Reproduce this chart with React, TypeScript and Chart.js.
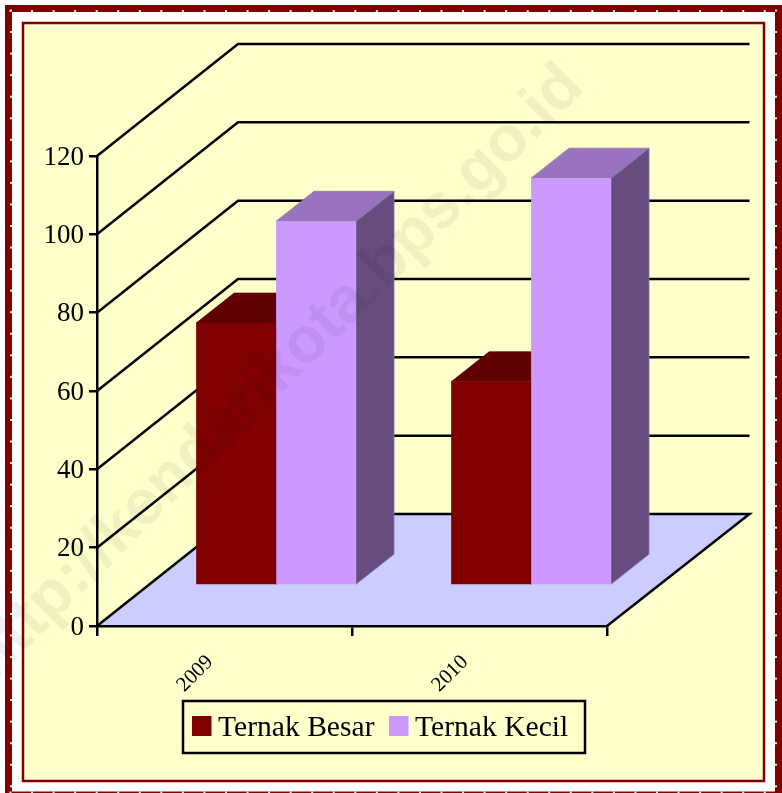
import React, { useEffect, useRef } from "react";
import { Chart, registerables } from "chart.js";

Chart.register(...registerables);

const categories = ["2009", "2010"];
const ternakBesar = [67, 52];
const ternakKecil = [93, 104];
const seriesNames = ["Ternak Besar", "Ternak Kecil"];
const frontColors = ["#800000", "#CC99FF"];
const topColors = ["#600000", "#9973BF"];
const sideColors = ["#400000", "#664D80"];
const edgeColors = ["#600000", "#8F7AA8"];
const watermarkText = "http://kendarikota.bps.go.id";

const WALL_DX = 141;
const WALL_DY = -112;
const WALL_END = 1.5;
const BAR_DX = 38;
const BAR_DY = -30;
const SHIFT_X = 51.6;
const SHIFT_Y = -40.5;
const LINE = 2.5;
const SERIF = "'Liberation Serif', 'Times New Roman', serif";

function poly(ctx: CanvasRenderingContext2D, pts: number[][], fill: string, edge?: string) {
  ctx.beginPath();
  pts.forEach((p, i) => (i ? ctx.lineTo(p[0], p[1]) : ctx.moveTo(p[0], p[1])));
  ctx.closePath();
  ctx.fillStyle = fill;
  ctx.fill();
  if (edge) {
    ctx.strokeStyle = edge;
    ctx.lineWidth = 0.8;
    ctx.stroke();
  }
}

const scene3d = {
  id: "scene3d",
  beforeDraw(chart: any) {
    const { ctx, scales, chartArea, width, height } = chart;
    // centre the value labels on their ticks
    scales.y.getLabelItems(chartArea).forEach((item: any) => {
      if (!item.nudged) {
        item.options.translation[1] += 1.5;
        item.nudged = true;
      }
    });
    ctx.save();
    ctx.fillStyle = "#FFFFFF";
    ctx.fillRect(0, 0, width, height);
    // outer dotted frame
    ctx.strokeStyle = "#800000";
    ctx.lineWidth = 7;
    ctx.strokeRect(8.5, 8.5, 770, 786.5);
    ctx.fillStyle = "#F4E4E4";
    for (let x = 10.5; x < 776; x += 21.55) {
      ctx.fillRect(x - 1, 10, 2, 2);
      ctx.fillRect(x - 1, 791.5, 2, 1.5);
    }
    for (let y = 10.5; y < 792; y += 21.55) {
      ctx.fillRect(10, y - 1, 2, 2);
      ctx.fillRect(775, y - 1, 2, 2);
    }
    // inner frame
    ctx.fillStyle = "#FFFFCC";
    ctx.fillRect(23, 23, 741, 758);
    ctx.strokeStyle = "#800000";
    ctx.lineWidth = 2.5;
    ctx.strokeRect(23, 23, 741, 758);

    const { left, right, bottom } = chartArea;
    poly(
      ctx,
      [
        [left, bottom],
        [left + WALL_DX, bottom + WALL_DY],
        [right + WALL_DX + WALL_END, bottom + WALL_DY],
        [right, bottom],
      ],
      "#CCCCFF"
    );
    ctx.strokeStyle = "#000000";
    ctx.lineWidth = LINE;
    ctx.lineJoin = "miter";
    scales.y.ticks.forEach((t: any) => {
      const y = scales.y.getPixelForValue(t.value);
      ctx.beginPath();
      ctx.moveTo(left, y);
      ctx.lineTo(left + WALL_DX, y + WALL_DY);
      ctx.lineTo(right + WALL_DX + WALL_END, y + WALL_DY);
      if (t.value === 0) ctx.lineTo(right, y);
      ctx.stroke();
    });
    ctx.restore();
  },
  beforeDatasetsDraw(chart: any) {
    const { ctx } = chart;
    ctx.save();
    ctx.translate(SHIFT_X, SHIFT_Y);
    chart.data.datasets.forEach((_: any, d: number) => {
      chart.getDatasetMeta(d).data.forEach((bar: any) => {
        const { x, y, base, width: w } = bar.getProps(["x", "y", "base", "width"], true);
        const l = x - w / 2;
        const r = x + w / 2;
        poly(ctx, [[l, y], [l + BAR_DX, y + BAR_DY], [r + BAR_DX, y + BAR_DY], [r, y]], topColors[d], edgeColors[d]);
        poly(ctx, [[r, y], [r + BAR_DX, y + BAR_DY], [r + BAR_DX, base + BAR_DY], [r, base]], sideColors[d], edgeColors[d]);
      });
    });
  },
  afterDatasetsDraw(chart: any) {
    chart.ctx.restore();
  },
  afterDraw(chart: any) {
    const { ctx } = chart;
    // legend box
    ctx.save();
    ctx.fillStyle = "#FFFFCC";
    ctx.fillRect(183, 701, 402, 52);
    ctx.strokeStyle = "#000000";
    ctx.lineWidth = 2.5;
    ctx.strokeRect(183, 701, 402, 52);
    ctx.font = `29.6px ${SERIF}`;
    ctx.textBaseline = "alphabetic";
    ctx.textAlign = "left";
    const boxX = [192, 389];
    const textX = [218, 415];
    chart.data.datasets.forEach((ds: any, i: number) => {
      ctx.fillStyle = ds.backgroundColor;
      ctx.fillRect(boxX[i], 716, 19.5, 20);
      ctx.fillStyle = "#000000";
      ctx.fillText(ds.label, textX[i], 736);
    });
    // watermark
    ctx.translate(277, 373);
    ctx.rotate((-45 * Math.PI) / 180);
    ctx.font = "bold 64px 'Liberation Sans', Arial, sans-serif";
    ctx.textAlign = "center";
    ctx.textBaseline = "middle";
    ctx.fillStyle = "rgba(0,0,0,0.06)";
    ctx.fillText(watermarkText, 0, 0);
    ctx.restore();
  },
};

export default function App() {
  const ref = useRef<HTMLCanvasElement>(null);
  useEffect(() => {
    const chart = new Chart(ref.current as HTMLCanvasElement, {
      type: "bar",
      data: {
        labels: categories,
        datasets: [
          { label: seriesNames[0], data: ternakBesar, backgroundColor: frontColors[0], clip: false } as any,
          { label: seriesNames[1], data: ternakKecil, backgroundColor: frontColors[1], clip: false } as any,
        ],
      },
      options: {
        animation: false,
        responsive: false,
        devicePixelRatio: 1,
        layout: { padding: { left: 0, top: 156, right: 175, bottom: 0 } },
        datasets: { bar: { categoryPercentage: 0.627, barPercentage: 1 } },
        plugins: { legend: { display: false }, tooltip: { enabled: false }, title: { display: false } },
        scales: {
          x: {
            afterFit: (s: any) => {
              s.height = 167;
            },
            border: { color: "#000", width: LINE },
            grid: { drawOnChartArea: false, color: "#000", lineWidth: LINE, tickLength: 10, offset: true },
            ticks: {
              color: "#000",
              font: { family: SERIF, size: 21 },
              minRotation: 45,
              maxRotation: 45,
              labelOffset: -14.5,
              padding: 14,
              autoSkip: false,
            },
          },
          y: {
            min: 0,
            max: 120,
            afterFit: (s: any) => {
              s.width = 97;
            },
            border: { color: "#000", width: LINE },
            grid: { drawOnChartArea: false, color: "#000", lineWidth: LINE, tickLength: 8 },
            ticks: { color: "#000", font: { family: SERIF, size: 27 }, stepSize: 20, padding: 5 },
          },
        },
      } as any,
      plugins: [scene3d],
    });
    return () => chart.destroy();
  }, []);
  return (
    <div style={{ position: "absolute", left: 0, top: 0, width: 782, height: 793, overflow: "hidden" }}>
      <canvas ref={ref} width={782} height={793} style={{ display: "block" }} />
    </div>
  );
}
